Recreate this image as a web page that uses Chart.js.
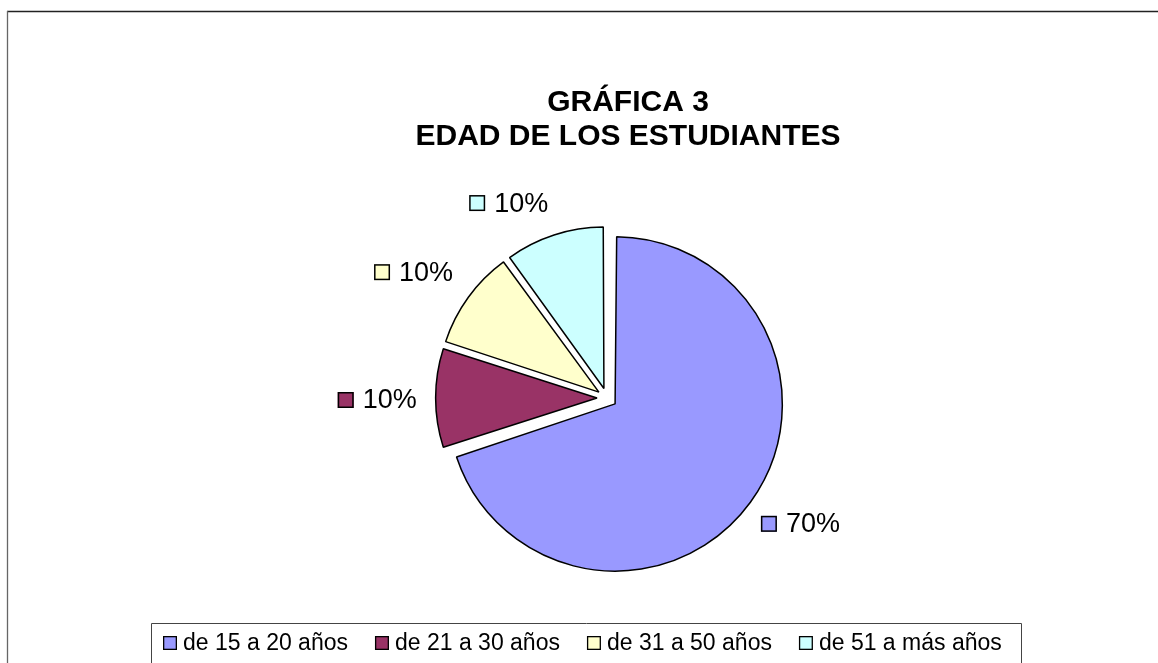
<!DOCTYPE html>
<html>
<head>
<meta charset="utf-8">
<script src="https://cdn.jsdelivr.net/npm/chart.js@4/dist/chart.umd.min.js"></script>
<style>
  html, body { margin: 0; padding: 0; background: #ffffff; }
  #wrap { width: 1158px; height: 663px; position: relative; }
</style>
</head>
<body>
<div id="wrap"><canvas id="c" width="1158" height="663"></canvas></div>
<script>
const titleLines = ['GRÁFICA 3', 'EDAD DE LOS ESTUDIANTES'];
const categories = ['de 15 a 20 años', 'de 21 a 30 años', 'de 31 a 50 años', 'de 51 a más años'];
const values = [70, 10, 10, 10];
const colors = ['#9999FF', '#993366', '#FFFFCC', '#CCFFFF'];

const FONT = '"Liberation Sans", Arial, Helvetica, sans-serif';

const decorPlugin = {
  id: 'decor',
  beforeDraw(chart) {
    const ctx = chart.ctx;
    ctx.save();
    ctx.fillStyle = '#ffffff';
    ctx.fillRect(0, 0, chart.width, chart.height);
    // outer frame
    ctx.lineWidth = 1.3;
    ctx.strokeStyle = '#222222';
    ctx.beginPath();
    ctx.moveTo(7, 11.5); ctx.lineTo(chart.width, 11.5);
    ctx.stroke();
    ctx.strokeStyle = '#666666';
    ctx.beginPath();
    ctx.moveTo(7.5, 11); ctx.lineTo(7.5, chart.height);
    ctx.stroke();
    // title
    ctx.fillStyle = '#000000';
    ctx.font = 'bold 30px ' + FONT;
    ctx.textAlign = 'center';
    ctx.textBaseline = 'middle';
    ctx.fillText(titleLines[0], 628, 103);
    ctx.fillText(titleLines[1], 628, 137);
    // legend box
    ctx.lineWidth = 1;
    ctx.strokeStyle = '#444444';
    ctx.beginPath();
    ctx.moveTo(151.5, chart.height);
    ctx.lineTo(151.5, 623.5);
    ctx.lineTo(1021.5, 623.5);
    ctx.lineTo(1021.5, chart.height);
    ctx.stroke();
    // legend items
    ctx.font = '23px ' + FONT;
    ctx.textAlign = 'left';
    ctx.textBaseline = 'middle';
    let x = 163;
    const cy = 643;
    const box = 14;
    for (let i = 0; i < categories.length; i++) {
      ctx.fillStyle = colors[i];
      ctx.fillRect(x, cy - box / 2, box, box);
      ctx.strokeStyle = '#000000';
      ctx.lineWidth = 1.3;
      ctx.strokeRect(x + 0.65, cy - box / 2 + 0.65, box - 1.3, box - 1.3);
      ctx.fillStyle = '#000000';
      ctx.fillText(categories[i], x + box + 6, cy + 1);
      x += box + 6 + ctx.measureText(categories[i]).width + 27;
    }
    ctx.restore();
  },
  afterDatasetsDraw(chart) {
    const ctx = chart.ctx;
    const meta = chart.getDatasetMeta(0);
    const ds = chart.data.datasets[0];
    const total = ds.data.reduce((a, b) => a + b, 0);
    ctx.save();
    ctx.font = '27px ' + FONT;
    ctx.textBaseline = 'middle';
    ctx.textAlign = 'left';
    meta.data.forEach((arc, i) => {
      const p = arc.getProps(['x', 'y', 'startAngle', 'endAngle', 'outerRadius'], true);
      const mid = (p.startAngle + p.endAngle) / 2;
      const off = (arc.options.offset || 0) / 4; // Chart.js v4 translates arcs by offset/4
      const dx = Math.cos(mid), dy = Math.sin(mid);
      const vx = p.x + dx * off, vy = p.y + dy * off;
      const gap = 23;
      const ax = vx + dx * (p.outerRadius + gap);
      const ay = vy + dy * (p.outerRadius + gap);
      const txt = Math.round(ds.data[i] / total * 100) + '%';
      const sq = 16, sgap = 9;
      const tw = ctx.measureText(txt).width;
      const bw = sq + sgap + tw, bh = 28;
      let left, top;
      if (Math.abs(dx) < 0.3) left = ax - bw / 2; else if (dx > 0) left = ax; else left = ax - bw;
      if (Math.abs(dy) < 0.3) top = ay - bh / 2 + 2; else if (dy > 0) top = ay; else top = ay - bh;
      const cy = top + bh / 2;
      ctx.fillStyle = colors[i];
      ctx.fillRect(left, cy - sq / 2, sq, sq);
      ctx.strokeStyle = '#000000';
      ctx.lineWidth = 1.5;
      ctx.strokeRect(left + 0.75, cy - sq / 2 + 0.75, sq - 1.5, sq - 1.5);
      ctx.fillStyle = '#000000';
      ctx.fillText(txt, left + sq + sgap, cy + 1);
    });
    ctx.restore();
  }
};

new Chart(document.getElementById('c'), {
  type: 'pie',
  data: {
    labels: categories,
    datasets: [{
      data: values,
      backgroundColor: colors,
      borderColor: '#000000',
      borderWidth: 1.5,
      offset: 40,
      hoverOffset: 0
    }]
  },
  options: {
    responsive: false,
    animation: false,
    events: [],
    layout: { padding: { top: 220, bottom: 87, left: 100, right: 44 } },
    plugins: {
      legend: { display: false },
      title: { display: false },
      tooltip: { enabled: false }
    }
  },
  plugins: [decorPlugin]
});
</script>
</body>
</html>
